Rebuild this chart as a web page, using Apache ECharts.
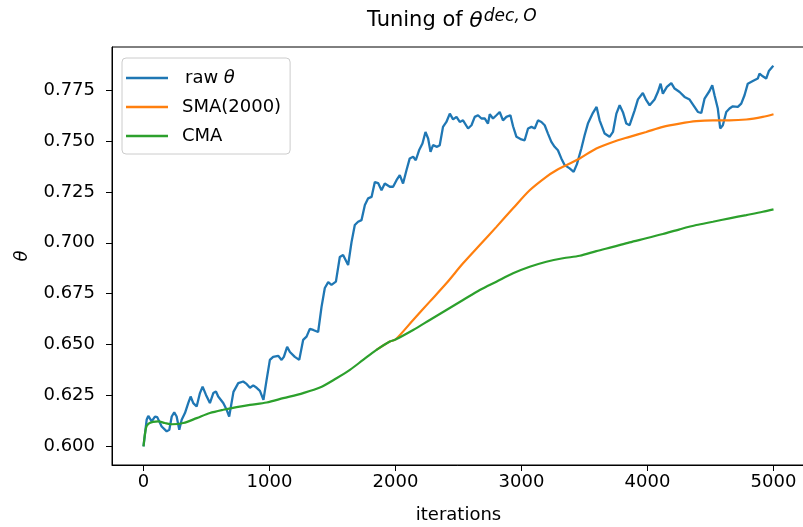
<!DOCTYPE html>
<html><head><meta charset="utf-8">
<script src="https://cdn.jsdelivr.net/npm/echarts@6/dist/echarts.min.js"></script>
<style>html,body{margin:0;padding:0;background:#fff}#c{width:803px;height:527px}</style>
</head><body><div id="c"></div>
<script>
const xTicks = [0, 1000, 2000, 3000, 4000, 5000];
const yTicks = [0.600, 0.625, 0.650, 0.675, 0.700, 0.725, 0.750, 0.775];
const seriesNames = ['raw θ', 'SMA(2000)', 'CMA'];

const rawTheta = [[0,0.6000],[25,0.6131],[38,0.6150],[46,0.6155],[65,0.6123],[91,0.6147],[109,0.6144],[144,0.6098],[184,0.6074],[205,0.6082],[224,0.6147],[244,0.6167],[263,0.6147],[284,0.6082],[303,0.6131],[329,0.6164],[355,0.6213],[374,0.6245],[395,0.6213],[422,0.6196],[448,0.6262],[469,0.6294],[496,0.6253],[527,0.6213],[554,0.6262],[575,0.6270],[593,0.6245],[633,0.6213],[660,0.6180],[680,0.6147],[714,0.6268],[752,0.6311],[791,0.6319],[818,0.6307],[845,0.6288],[871,0.6300],[898,0.6288],[924,0.6273],[952,0.6229],[977,0.6327],[1003,0.6425],[1029,0.6440],[1069,0.6445],[1096,0.6425],[1114,0.6440],[1140,0.6489],[1162,0.6464],[1201,0.6440],[1236,0.6425],[1267,0.6523],[1294,0.6539],[1320,0.6577],[1347,0.6572],[1386,0.6562],[1413,0.6685],[1439,0.6778],[1466,0.6807],[1492,0.6793],[1527,0.6809],[1558,0.6930],[1584,0.6940],[1624,0.6891],[1651,0.7003],[1677,0.7087],[1703,0.7103],[1730,0.7111],[1757,0.7185],[1783,0.7218],[1810,0.7225],[1836,0.7298],[1862,0.7293],[1889,0.7258],[1915,0.7291],[1955,0.7275],[1981,0.7275],[2008,0.7307],[2034,0.7332],[2060,0.7291],[2087,0.7356],[2113,0.7414],[2140,0.7422],[2161,0.7405],[2187,0.7454],[2214,0.7487],[2238,0.7544],[2259,0.7512],[2278,0.7446],[2298,0.7479],[2330,0.7471],[2351,0.7479],[2377,0.7569],[2404,0.7593],[2431,0.7634],[2457,0.7606],[2484,0.7618],[2510,0.7593],[2536,0.7601],[2576,0.7561],[2603,0.7577],[2629,0.7618],[2655,0.7626],[2682,0.7610],[2708,0.7611],[2734,0.7585],[2748,0.7631],[2774,0.7610],[2801,0.7626],[2827,0.7642],[2853,0.7601],[2880,0.7618],[2912,0.7626],[2933,0.7572],[2960,0.7520],[2999,0.7507],[3025,0.7503],[3052,0.7561],[3079,0.7569],[3105,0.7561],[3131,0.7601],[3158,0.7593],[3184,0.7577],[3210,0.7536],[3237,0.7495],[3263,0.7471],[3289,0.7454],[3316,0.7414],[3343,0.7381],[3382,0.7365],[3414,0.7348],[3440,0.7386],[3475,0.7463],[3501,0.7528],[3527,0.7585],[3567,0.7638],[3596,0.7667],[3620,0.7601],[3660,0.7536],[3699,0.7520],[3726,0.7544],[3753,0.7634],[3779,0.7675],[3805,0.7641],[3832,0.7585],[3858,0.7577],[3898,0.7650],[3924,0.7704],[3963,0.7735],[3990,0.7700],[4017,0.7675],[4056,0.7703],[4082,0.7740],[4104,0.7781],[4122,0.7732],[4154,0.7765],[4189,0.7784],[4215,0.7757],[4255,0.7740],[4294,0.7716],[4334,0.7703],[4373,0.7667],[4400,0.7642],[4427,0.7637],[4453,0.7708],[4492,0.7745],[4514,0.7773],[4532,0.7724],[4558,0.7659],[4577,0.7561],[4598,0.7577],[4625,0.7642],[4651,0.7659],[4677,0.7670],[4717,0.7667],[4744,0.7683],[4770,0.7724],[4796,0.7781],[4836,0.7794],[4875,0.7806],[4889,0.7830],[4915,0.7817],[4942,0.7806],[4963,0.7843],[4990,0.7863],[5000,0.7868]];

const sma2000 = [[1849,0.6474],[1955,0.6515],[2000,0.6525],[2140,0.6621],[2272,0.6711],[2404,0.6801],[2536,0.6899],[2669,0.6989],[2801,0.7078],[2933,0.7169],[3065,0.7258],[3197,0.7324],[3277,0.7356],[3356,0.7381],[3462,0.7414],[3594,0.7463],[3726,0.7495],[3858,0.7520],[3990,0.7544],[4122,0.7569],[4255,0.7585],[4387,0.7597],[4519,0.7601],[4651,0.7601],[4784,0.7605],[4915,0.7618],[5000,0.7631]];

const cma = [[0,0.6000],[20,0.6092],[38,0.6111],[75,0.6121],[117,0.6123],[170,0.6115],[226,0.6109],[316,0.6115],[422,0.6139],[527,0.6164],[633,0.6180],[739,0.6193],[845,0.6204],[977,0.6216],[1109,0.6237],[1267,0.6262],[1400,0.6289],[1532,0.6335],[1638,0.6376],[1743,0.6425],[1849,0.6474],[1955,0.6515],[2000,0.6525],[2140,0.6572],[2272,0.6621],[2404,0.6670],[2536,0.6719],[2669,0.6768],[2801,0.6809],[2933,0.6850],[3065,0.6882],[3197,0.6907],[3329,0.6924],[3462,0.6936],[3594,0.6959],[3726,0.6980],[3858,0.7002],[3990,0.7022],[4122,0.7043],[4255,0.7066],[4387,0.7087],[4519,0.7103],[4651,0.7120],[4784,0.7136],[4915,0.7152],[5000,0.7164]];

const colors = ['#1f77b4', '#ff7f0e', '#2ca02c'];
const FONT = 'DejaVu Sans';

const chart = echarts.init(document.getElementById('c'), null, {renderer: 'canvas'});
chart.setOption({
  animation: false,
  backgroundColor: '#ffffff',
  color: colors,
  textStyle: {fontFamily: FONT},
  title: {
    text: 'Tuning of {th|θ}{sup|dec,\u2009O}',
    left: 367,
    top: 8,
    padding: 0,
    textStyle: {
      fontFamily: FONT, fontSize: 21, fontWeight: 'normal', color: '#000', lineHeight: 26,
      rich: {
        th: {fontFamily: FONT, fontSize: 22, fontStyle: 'italic', color: '#000', lineHeight: 26, padding: [0, 1, 0, 0]},
        sup: {fontFamily: FONT, fontSize: 17, fontStyle: 'italic', color: '#000', lineHeight: 15, verticalAlign: 'top'}
      }
    }
  },
  legend: {
    orient: 'vertical',
    left: 122, top: 58,
    padding: [10, 9, 8, 4],
    itemGap: 9,
    itemWidth: 42,
    itemHeight: 2.4,
    icon: 'rect',
    backgroundColor: 'rgba(255,255,255,0.8)',
    borderColor: '#cccccc',
    borderWidth: 1,
    borderRadius: 4,
    data: seriesNames,
    formatter: function (name) { return name === 'raw θ' ? '{r|raw }{i|θ}' : name; },
    textStyle: {
      fontFamily: FONT, fontSize: 18, lineHeight: 20, color: '#000', padding: [0, 0, 0, 9],
      rich: {
        r: {fontFamily: FONT, fontSize: 18, color: '#000', padding: [0, 0, 0, 3]},
        i: {fontFamily: FONT, fontSize: 18, color: '#000', fontStyle: 'italic'}
      }
    }
  },
  grid: {
    left: 112, top: 47, right: -2, bottom: 62,
    show: true, borderColor: '#000', borderWidth: 1,
    containLabel: false, outerBoundsMode: 'none'
  },
  xAxis: {
    type: 'value', min: -250, max: 5250,
    name: 'iterations', nameLocation: 'middle', nameGap: 41,
    nameTextStyle: {fontFamily: FONT, fontSize: 18, color: '#000'},
    axisLine: {show: true, onZero: false, lineStyle: {color: '#000', width: 1}},
    axisTick: {show: true, length: 6, customValues: xTicks, lineStyle: {color: '#000'}},
    axisLabel: {customValues: xTicks, fontFamily: FONT, fontSize: 18, color: '#000', margin: 8,
      formatter: function (v) { return String(v); }},
    splitLine: {show: false}
  },
  yAxis: {
    type: 'value', min: 0.5909, max: 0.7961,
    name: 'θ', nameLocation: 'middle', nameGap: 81,
    nameTextStyle: {fontFamily: FONT, fontSize: 18, fontStyle: 'italic', color: '#000'},
    axisLine: {show: true, onZero: false, lineStyle: {color: '#000', width: 1}},
    axisTick: {show: true, length: 6, customValues: yTicks, lineStyle: {color: '#000'}},
    axisLabel: {customValues: yTicks, fontFamily: FONT, fontSize: 18, color: '#000', margin: 17,
      formatter: function (v) { return v.toFixed(3); }},
    splitLine: {show: false}
  },
  series: [
    {name: seriesNames[0], type: 'line', data: rawTheta, symbol: 'none', lineStyle: {width: 2.3, color: colors[0]}, itemStyle: {color: colors[0]}},
    {name: seriesNames[1], type: 'line', data: sma2000, symbol: 'none', smooth: 0.3, lineStyle: {width: 2.2, color: colors[1]}, itemStyle: {color: colors[1]}},
    {name: seriesNames[2], type: 'line', data: cma, symbol: 'none', smooth: 0.3, lineStyle: {width: 2.2, color: colors[2]}, itemStyle: {color: colors[2]}}
  ]
});
</script>
</body></html>
